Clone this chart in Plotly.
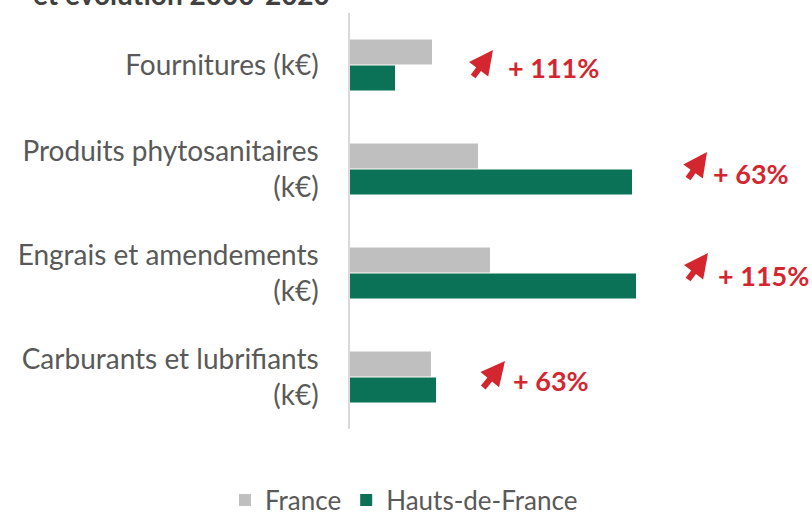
import plotly.graph_objects as go

categories = ["Fournitures (k€)", "Produits phytosanitaires<br>(k€)",
              "Engrais et amendements<br>(k€)", "Carburants et lubrifiants<br>(k€)"]
france = [82, 128, 140, 81]
hdf = [45, 282, 286, 86]
evolution = ["+ 111%", "+ 63%", "+ 115%", "+ 63%"]

GRAY = "#bfbfbf"
GREEN = "#0b7258"
RED = "#d4262f"
FONT = "Lato"

fig = go.Figure()
fig.add_trace(go.Bar(y=categories, x=france, orientation="h", name="France",
                     marker=dict(color=GRAY, line=dict(width=0))))
fig.add_trace(go.Bar(y=categories, x=hdf, orientation="h", name="Hauts-de-France",
                     marker=dict(color=GREEN, line=dict(width=0))))

L, T, W, H = 350, 13, 450, 416

def px(x):
    return (x - L) / W

def py(y):
    return (T + H - y) / H

# arrows: (tail_x, tail_y, head_x, head_y, text_left_x, text_center_y)
arrow_pos = [(472, 78, 493, 50, 506, 68),
             (687, 180, 707, 152, 711, 173),
             (687, 281, 708, 253, 716, 275),
             (482, 389, 505, 361, 511, 380)]

for lab, (tx, ty, hx, hy, lx, ly) in zip(evolution, arrow_pos):
    fig.add_annotation(xref="paper", yref="paper", x=px(hx), y=py(hy),
                       ax=tx - hx, ay=ty - hy, showarrow=True, arrowhead=2,
                       arrowsize=0.8, arrowwidth=6, arrowcolor=RED, text="")
    fig.add_annotation(xref="paper", yref="paper", x=px(lx), y=py(ly),
                       xanchor="left", yanchor="middle", showarrow=False,
                       text="<b>" + lab + "</b>",
                       font=dict(family=FONT, size=27, color=RED))

fig.add_annotation(xref="paper", yref="paper", x=px(332), y=0.999,
                   xanchor="right", yanchor="bottom", showarrow=False,
                   text="<b>et évolution 2000-2020</b>",
                   font=dict(family=FONT, size=28, color="#404040"))

fig.update_layout(
    width=812, height=517,
    margin=dict(l=L, r=812 - L - W, t=T, b=517 - T - H, autoexpand=False),
    paper_bgcolor="white", plot_bgcolor="white",
    barmode="group", bargap=0.5, bargroupgap=0.04,
    font=dict(family=FONT, size=28, color="#595959"),
    showlegend=True,
    legend=dict(orientation="h", x=px(404), xanchor="center", y=py(500),
                yanchor="middle", font=dict(size=26, color="#595959"),
                itemwidth=30, traceorder="normal"),
    xaxis=dict(range=[0, W], showgrid=False, zeroline=False, showticklabels=False,
               showline=False),
    yaxis=dict(autorange="reversed", showgrid=False, showline=True,
               linecolor="#d9d9d9", linewidth=1.5, ticks="", ticklabelstandoff=24),
)

fig.write_html("out.html")
